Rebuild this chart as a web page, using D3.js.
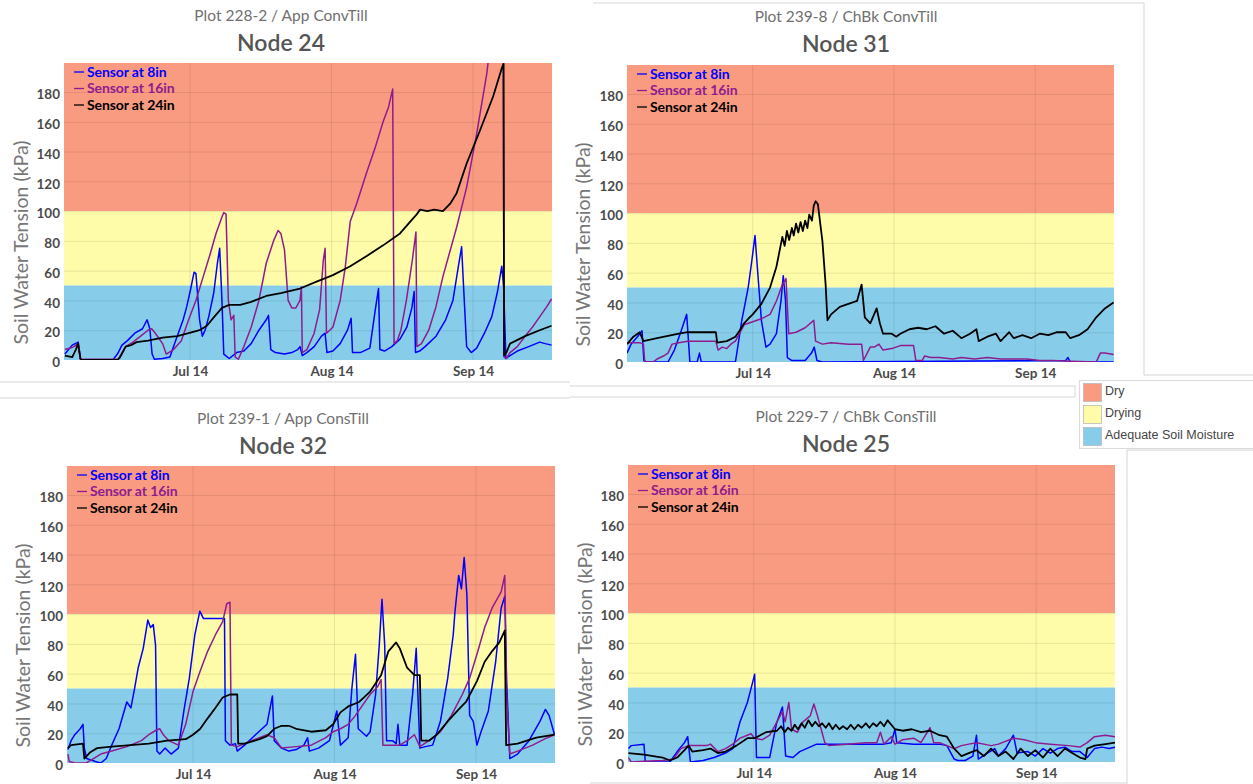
<!DOCTYPE html>
<html><head><meta charset="utf-8">
<script src="https://cdn.jsdelivr.net/npm/d3@7"></script>
<style>
html,body{margin:0;padding:0;background:#fff;}
svg{display:block;font-family:Lato,"Open Sans",sans-serif;}
</style></head><body>
<svg id="chart" width="1253" height="784"></svg>
<script>
// ---------- DATA (day offset from Jun 16, soil water tension kPa) ----------
const tickDays = [28, 59, 90];          // Jul 14, Aug 14, Sep 14
const yTicks = [0,20,40,60,80,100,120,140,160,180];
const zoneNames = ["Dry","Drying","Adequate Soil Moisture"];
const zoneBounds = [[100,199.5],[50,100],[0,50]];
const seriesNames = ["Sensor at 8in","Sensor at 16in","Sensor at 24in"];
const subtitles = ["Plot 228-2 / App ConvTill","Plot 239-8 / ChBk ConvTill","Plot 239-1 / App ConsTill","Plot 229-7 / ChBk ConsTill"];
const titles = ["Node 24","Node 31","Node 32","Node 25"];

const node24_8in = [[0.6,4],[2.2,10],[3.5,12],[4.0,1],[4.2,0],[11.1,0],[12.1,4],[13.1,10],[14.3,13],[15.9,18],[17.6,21],[18.6,27],[19.2,21],[19.7,4],[20.2,0.5],[22.0,1],[23.6,2],[24.4,9],[25.2,16],[26.5,27],[27.3,36],[28.1,47],[28.9,59],[29.3,58],[30.1,27],[30.7,16],[31.3,20],[32.1,29],[33.2,45],[34.0,65],[34.5,75],[35.0,40],[35.4,4],[36.6,1],[38.2,5],[39.8,6],[41.4,11],[43.1,20],[44.7,27],[45.2,30],[45.7,7],[46.7,5],[48.7,4],[50.3,5],[51.6,7],[52.1,9],[52.6,3],[53.6,5],[55.2,9],[56.8,16],[57.6,18],[58.0,5],[59.3,6],[60.9,11],[62.5,20],[63.3,28],[63.6,5],[65.3,5],[67.4,8],[68.6,34],[69.3,48],[69.6,7],[70.6,6],[72.2,9],[74.0,14],[75.5,22],[76.6,35],[77.1,46],[77.4,5],[78.3,6],[79.5,9],[81.9,16],[84.0,27],[85.6,40],[86.8,63],[87.5,76],[87.9,51],[88.6,9],[89.6,5],[90.8,8],[92.5,18],[94.1,29],[95.3,45],[96.3,63],[96.7,49],[97.2,1],[98.1,3],[99.7,6],[102.2,9],[104.6,12],[105.8,11],[107.2,10]];
const node24_16in = [[0.6,7],[1.8,8],[2.6,9],[3.4,11],[4.0,0.5],[12.3,0.5],[13.9,9],[15.5,12],[17.2,16],[18.8,20],[19.6,21],[20.4,18],[22.0,11],[22.8,4],[24.4,7],[26.1,13],[27.7,27],[29.3,40],[30.9,56],[32.5,72],[33.7,85],[35.0,96],[35.4,99],[35.9,98],[36.4,40],[37.0,27],[37.6,30],[37.9,2],[38.6,0.5],[39.8,9],[41.4,22],[43.1,40],[44.7,65],[46.3,80],[47.3,87],[47.9,85],[48.7,74],[49.5,40],[50.3,35],[51.2,35],[52.1,40],[52.4,49],[52.6,5],[53.6,7],[55.2,18],[56.4,34],[57.2,67],[57.6,75],[57.9,18],[59.3,22],[60.9,40],[62.0,62],[63.1,93],[64.5,105],[66.7,126],[68.5,142],[70.3,160],[71.5,170],[72.4,182],[72.7,11],[73.4,13],[74.2,20],[75.4,40],[76.7,67],[77.5,86],[77.7,9],[78.7,11],[80.3,20],[81.9,36],[83.4,56],[86.4,89],[88.6,116],[90.8,152],[93.0,192],[93.5,205],[96.6,205],[96.8,2],[97.3,1],[98.1,5],[99.7,9],[101.4,16],[103.0,22],[104.6,29],[106.2,36],[107.2,41]];
const node24_24in = [[0.6,3],[2.2,2],[3.0,7],[3.5,11],[4.0,1],[4.2,0],[12.1,0],[12.7,2],[13.9,9],[15.1,10],[16.3,12],[18.8,13],[22.0,15],[25.2,16],[27.7,18],[30.1,20],[31.7,23],[33.3,29],[35.0,35],[36.6,37],[39.0,37],[41.4,39],[44.7,43],[47.9,45],[52.1,48],[56.0,53],[59.3,57],[63.1,63],[66.8,70],[70.3,77],[74.0,85],[77.7,98],[78.4,101],[80.0,100],[81.5,101],[83.4,100],[85.0,105],[86.4,112],[88.6,132],[91.5,154],[94.4,177],[96.3,196],[96.7,199],[96.8,3],[97.3,5],[98.1,11],[101.4,16],[104.6,20],[107.2,23]];

const node31_8in = [[0.4,6],[1.3,12],[2.7,17],[3.7,21],[4.1,1],[4.6,0],[9.4,0],[10.8,8],[12.3,21],[13.5,32],[14.2,0],[15.8,0],[16.3,6],[16.7,0],[24.2,0],[25.6,28],[27.0,50],[27.8,68],[28.5,85],[29.0,64],[29.9,28],[30.9,10],[31.8,12],[33.2,19],[34.2,41],[34.7,58],[35.2,41],[35.6,3],[36.6,1],[39.5,1],[40.9,6],[41.5,10],[42.1,1],[43.3,0],[96.7,1],[97.2,3],[97.7,0],[107.2,0]];
const node31_16in = [[0.4,13],[3.2,13],[4.0,12],[4.3,0],[6.1,0],[7.0,2],[8.4,4],[9.4,6],[10.3,12],[11.8,13],[13.7,14],[16.5,14],[19.9,14],[20.4,8],[21.3,10],[22.3,9],[23.2,12],[24.2,14],[26.1,25],[28.0,27],[29.9,29],[31.8,32],[33.2,41],[34.5,52],[35.3,56],[35.9,19],[37.5,20],[39.5,23],[41.4,28],[41.8,14],[43.3,12],[45.2,13],[49.0,12],[51.9,12],[52.3,1],[53.8,10],[54.7,10],[55.7,12],[56.6,8],[58.5,9],[60.4,11],[63.3,11],[63.8,1],[65.2,1],[65.7,4],[67.1,3],[69.0,3],[71.9,2],[73.8,3],[76.7,2],[79.5,3],[82.4,2],[85.3,2],[88.1,2],[91.0,1],[93.8,1],[97.7,0.5],[103.4,0],[104.3,6],[105.3,6],[107.2,5]];
const node31_24in = [[0.4,12],[1.8,17],[3.2,20],[4.0,14],[7.0,16],[11.8,19],[13.7,20],[16.5,20],[19.9,20],[20.2,13],[22.3,14],[24.2,17],[25.1,21],[26.1,26],[27.0,29],[28.0,32],[29.9,39],[31.8,50],[33.2,64],[34.5,84],[35.0,78],[35.5,88],[36.0,82],[36.6,90],[37.0,85],[37.5,93],[38.0,87],[38.5,94],[39.0,88],[39.5,95],[40.0,90],[40.4,99],[41.0,95],[41.4,105],[41.8,108],[42.3,106],[43.3,81],[44.0,52],[44.4,28],[45.2,32],[47.1,37],[49.0,39],[50.9,41],[51.9,52],[52.6,30],[53.8,26],[55.2,36],[55.9,26],[56.6,19],[58.5,19],[59.5,17],[60.4,19],[62.4,22],[64.3,23],[66.2,22],[68.1,24],[70.0,19],[71.9,21],[73.8,16],[75.7,19],[77.1,22],[77.6,14],[79.5,17],[81.4,19],[82.4,14],[84.3,20],[85.3,16],[87.2,18],[89.1,16],[91.0,19],[92.9,18],[94.8,20],[96.7,20],[97.7,16],[99.6,18],[101.5,22],[103.4,30],[105.3,36],[107.2,40]];

const node32_8in = [[0.6,9],[1.3,15],[2.1,19],[3.3,23],[3.9,26],[4.2,10],[4.7,3],[6.6,1],[7.8,0],[9.0,3],[10.2,12],[11.8,23],[13.5,41],[14.4,37],[15.2,50],[16.0,64],[17.1,77],[18.1,96],[18.7,91],[19.3,93],[19.8,79],[20.1,8],[20.7,6],[21.9,10],[23.2,6],[24.8,10],[26.0,35],[27.2,57],[28.4,86],[29.5,102],[30.3,97],[34.9,97],[35.1,15],[36.1,12],[37.3,13],[37.7,8],[39.3,12],[41.7,19],[44.2,26],[45.4,45],[45.8,15],[47.4,10],[49.0,8],[50.6,9],[52.3,12],[53.1,17],[53.5,8],[55.5,10],[57.9,15],[59.5,35],[60.3,12],[62.0,17],[62.8,50],[63.6,73],[64.2,23],[66.0,18],[66.8,21],[68.0,46],[68.8,79],[69.4,110],[70.0,79],[70.4,15],[71.7,15],[72.5,13],[72.9,26],[73.3,12],[74.9,12],[76.1,46],[76.9,77],[77.7,10],[78.9,11],[80.5,12],[82.2,28],[83.8,57],[85.0,86],[85.4,102],[86.2,126],[86.8,117],[87.4,138],[88.0,113],[88.6,32],[89.4,28],[90.2,12],[91.1,21],[92.7,35],[94.3,68],[95.5,104],[96.3,112],[96.7,55],[97.4,3],[99.1,6],[101.6,15],[104.0,28],[105.2,36],[106.0,32],[107.2,19]];
const node32_16in = [[0.6,6],[0.9,1],[2.1,0],[4.6,0],[6.2,3],[7.8,6],[10.2,8],[13.5,11],[16.7,15],[18.3,19],[19.9,22],[20.7,23],[21.5,19],[22.7,15],[24.8,12],[26.4,26],[28.0,48],[29.6,62],[31.2,75],[32.9,86],[34.5,95],[35.4,107],[36.1,108],[36.4,12],[37.7,11],[40.9,15],[44.2,19],[45.8,17],[47.4,10],[50.6,11],[53.9,12],[57.1,17],[58.7,21],[60.3,23],[62.0,26],[63.6,32],[65.2,39],[66.8,46],[68.4,51],[69.2,56],[69.6,12],[73.3,12],[74.9,15],[76.5,19],[77.7,11],[79.7,15],[82.2,21],[84.6,32],[87.0,46],[88.6,57],[90.2,73],[91.9,91],[93.5,104],[95.5,115],[96.3,126],[96.7,46],[97.4,6],[99.1,8],[102.4,12],[105.6,17],[107.2,19]];
const node32_24in = [[0.6,10],[1.3,12],[3.9,13],[4.2,3],[5.4,7],[7.0,10],[10.2,11],[14.3,12],[18.3,13],[22.3,15],[26.4,16],[28.0,19],[29.6,23],[31.2,30],[32.9,37],[34.5,44],[36.1,46],[37.7,46],[37.9,13],[39.3,13],[42.6,16],[44.2,18],[45.8,23],[47.4,25],[49.0,25],[50.6,23],[53.9,21],[57.1,22],[58.7,26],[60.3,34],[62.0,38],[64.4,41],[66.8,48],[69.2,59],[70.8,75],[72.5,81],[73.3,77],[74.9,64],[76.5,59],[77.7,59],[78.0,15],[79.7,15],[81.4,19],[83.8,28],[86.2,36],[87.8,41],[90.2,55],[91.9,68],[93.5,75],[95.1,81],[96.3,89],[96.6,12],[99.1,13],[103.2,17],[107.2,19]];

const node25_8in = [[0.5,9],[1.1,11],[3.9,12],[4.2,0],[9.6,0],[11.2,7],[12.8,13],[13.5,17],[14.1,0],[16.9,1],[19.3,3],[21.8,6],[23.4,9],[25.0,27],[26.6,40],[27.8,54],[28.2,59],[28.6,3],[29.1,3],[31.5,3],[33.0,26],[34.3,37],[35.0,4],[36.6,3],[38.1,7],[41.8,12],[44.5,12],[48.5,12],[52.6,12],[56.6,12],[58.2,13],[59.0,22],[59.4,13],[63.1,12],[68.8,12],[70.4,11],[72.0,2],[72.8,1],[74.4,1],[76.1,4],[76.9,18],[77.3,2],[79.3,6],[80.9,9],[81.7,4],[83.3,9],[85.0,18],[85.8,6],[88.2,7],[89.8,4],[91.5,9],[93.1,6],[94.7,9],[96.3,10],[97.9,7],[99.6,7],[101.2,3],[102.8,9],[104.4,10],[106.0,9],[107.3,10]];
const node25_16in = [[0.5,3],[1.1,0],[3.9,0.5],[8.0,1],[10.4,2],[12.0,9],[13.7,11],[16.1,11],[17.7,11],[18.5,12],[20.1,7],[21.8,9],[23.4,12],[25.0,16],[27.4,19],[28.2,16],[29.9,15],[31.5,18],[33.1,27],[34.3,34],[34.9,27],[35.7,40],[36.3,22],[37.6,20],[38.8,27],[40.4,31],[41.2,39],[42.0,31],[42.8,22],[43.6,13],[44.5,11],[48.5,12],[52.6,13],[55.0,13],[55.8,20],[56.6,12],[58.2,17],[59.0,12],[60.7,15],[63.1,16],[64.7,13],[66.7,23],[67.5,13],[68.8,13],[70.4,11],[72.0,9],[73.6,11],[75.2,12],[76.9,13],[78.5,12],[80.1,11],[81.7,12],[85.0,16],[87.4,15],[89.8,13],[93.1,12],[97.1,11],[99.6,10],[101.2,13],[102.8,17],[105.2,18],[107.3,17]];
const node25_24in = [[0.5,6],[3.9,5],[8.0,3],[9.6,1],[11.2,3],[12.8,8],[13.7,11],[14.5,7],[16.9,8],[18.5,9],[20.1,6],[21.8,7],[24.2,11],[26.6,16],[28.2,16],[30.7,20],[33.1,21],[34.0,24],[34.8,20],[35.5,23],[36.3,21],[37.0,25],[37.7,22],[38.5,26],[39.2,23],[40.0,28],[40.8,24],[41.5,27],[42.3,24],[43.0,26],[43.8,23],[44.5,26],[45.3,22],[46.0,25],[46.8,22],[47.6,24],[48.5,22],[49.3,25],[50.1,22],[50.9,25],[51.7,23],[52.6,26],[53.4,23],[54.2,26],[55.0,24],[55.8,27],[56.6,24],[57.4,28],[58.2,25],[59.0,22],[60.7,21],[62.7,22],[64.7,20],[66.7,21],[68.8,18],[70.4,17],[72.0,9],[73.6,4],[75.2,6],[76.9,8],[78.5,4],[80.1,9],[81.7,4],[83.3,7],[85.0,2],[86.6,9],[88.2,4],[89.8,8],[91.5,3],[93.1,9],[94.7,4],[96.3,9],[97.9,6],[99.6,3],[100.8,2],[101.2,9],[102.8,11],[105.2,12],[107.3,13]];

// ---------- LAYOUT ----------
const zoneColors = ["#F99B81","#FEFCA8","#87CDEA"];
const seriesColors = ["#0000FF","#8E1C8E","#000000"];
const START = new Date(2016,5,16);
const toDate = d => new Date(START.getTime() + d*864e5);
const xDomain = [toDate(0.4), toDate(107.3)];

const panels = [
  {sub:subtitles[0], title:titles[0], data:[node24_8in,node24_16in,node24_24in], L:64, R:552, T:63, B:360, cx:281, subY:16, titY:43, ylx:21},
  {sub:subtitles[1], title:titles[1], data:[node31_8in,node31_16in,node31_24in], L:627, R:1114, T:65, B:362, cx:846, subY:17, titY:44, ylx:583},
  {sub:subtitles[2], title:titles[2], data:[node32_8in,node32_16in,node32_24in], L:67, R:555, T:466, B:763, cx:283, subY:419, titY:446, ylx:23},
  {sub:subtitles[3], title:titles[3], data:[node25_8in,node25_16in,node25_24in], L:628, R:1115, T:465, B:762, cx:846, subY:417, titY:444, ylx:585}
];

const svg = d3.select("#chart");
const defs = svg.append("defs");

// faint container borders
const border = "#d6d6d6";
const segs = [[0,382,570,382],[0,398,570,398],[570,386,1075,386],[570,397,1075,397],[1075,386,1075,397],
  [593,3,1144,3],[1144,3,1144,375],[1144,375,1253,375],
  [1127,450,1127,784],[1127,450,1253,450],[590,783,1127,783]];
svg.selectAll("line.border").data(segs).enter().append("line")
  .attr("x1",d=>d[0]).attr("y1",d=>d[1]).attr("x2",d=>d[2]).attr("y2",d=>d[3])
  .attr("stroke",border).attr("stroke-width",1);

panels.forEach((p,i)=>{
  const x = d3.scaleTime().domain(xDomain).range([p.L,p.R]);
  const y = d3.scaleLinear().domain([0,199.5]).range([p.B,p.T]);
  const g = svg.append("g");
  const clipId = "clip"+i;
  defs.append("clipPath").attr("id",clipId).append("rect")
    .attr("x",p.L).attr("y",p.T).attr("width",p.R-p.L).attr("height",p.B-p.T);

  // zones
  g.selectAll("rect.zone").data(zoneBounds).enter().append("rect")
    .attr("x",p.L).attr("width",p.R-p.L)
    .attr("y",d=>y(d[1])).attr("height",d=>y(d[0])-y(d[1]))
    .attr("fill",(d,j)=>zoneColors[j]);

  // grid
  g.selectAll("line.gy").data(yTicks.slice(1)).enter().append("line")
    .attr("x1",p.L).attr("x2",p.R).attr("y1",d=>y(d)+0.5).attr("y2",d=>y(d)+0.5)
    .attr("stroke","rgba(0,0,0,0.09)");
  g.selectAll("line.gx").data(tickDays).enter().append("line")
    .attr("y1",p.T).attr("y2",p.B).attr("x1",d=>x(toDate(d))).attr("x2",d=>x(toDate(d)))
    .attr("stroke","rgba(0,0,0,0.09)");

  // axes
  const xa = d3.axisBottom(x).tickValues(tickDays.map(toDate)).tickFormat(d3.timeFormat("%b %d")).tickSize(0).tickPadding(6);
  const gx = g.append("g").attr("transform",`translate(0,${p.B})`).call(xa);
  const ya = d3.axisLeft(y).tickValues(yTicks).tickSize(0).tickPadding(4);
  const gy = g.append("g").attr("transform",`translate(${p.L},0)`).call(ya);
  [gx,gy].forEach(a=>{
    a.select(".domain").remove();
    a.selectAll("text").attr("font-family","Lato, sans-serif").attr("font-size",13.5)
      .attr("font-weight",700).attr("fill","#4a4a4a");
  });
  gy.selectAll("text").attr("dy","0.5em");

  // lines
  const line = d3.line().x(d=>x(toDate(d[0]))).y(d=>y(d[1]));
  const lg = g.append("g").attr("clip-path",`url(#${clipId})`);
  p.data.forEach((s,j)=>{
    lg.append("path").datum(s).attr("d",line).attr("fill","none")
      .attr("stroke",seriesColors[j]).attr("stroke-width",j===2?1.8:1.5)
      .attr("stroke-linejoin","round");
  });

  // in-plot legend
  const lgd = g.append("g");
  seriesNames.forEach((n,j)=>{
    const yy = p.T + 9 + j*16.5;
    lgd.append("line").attr("x1",p.L+10).attr("x2",p.L+20).attr("y1",yy).attr("y2",yy)
      .attr("stroke",seriesColors[j]).attr("stroke-width",1.3);
    lgd.append("text").attr("x",p.L+23).attr("y",yy).attr("dy","0.35em")
      .attr("font-size",14).attr("font-weight",700).attr("fill",seriesColors[j])
      .attr("letter-spacing","-0.1").text(n);
  });

  // titles
  g.append("text").attr("x",p.cx).attr("y",p.subY).attr("dy","0.35em").attr("text-anchor","middle")
    .attr("font-size",15.5).attr("fill","#707070").text(p.sub);
  g.append("text").attr("x",p.cx).attr("y",p.titY).attr("dy","0.35em").attr("text-anchor","middle")
    .attr("font-size",23).attr("font-weight",600).attr("fill","#555").text(p.title);
  // y label
  const ym = (p.T+p.B)/2 + 31;
  g.append("text").attr("transform",`translate(${p.ylx},${ym}) rotate(-90)`).attr("dy","0.35em")
    .attr("text-anchor","middle").attr("font-size",19.5).attr("fill","#777")
    .text("Soil Water Tension (kPa)");
});

// zone legend
const zl = svg.append("g");
zl.append("rect").attr("x",1079.5).attr("y",380.5).attr("width",180).attr("height",68)
  .attr("fill","#fff").attr("stroke","#dcdcdc");
zoneNames.forEach((n,j)=>{
  const yy = 383 + j*22;
  zl.append("rect").attr("x",1083.5).attr("y",yy+0.5).attr("width",18).attr("height",18)
    .attr("fill",zoneColors[j]).attr("stroke","#bbb").attr("stroke-width",0.8);
  zl.append("text").attr("x",1105).attr("y",yy+8).attr("dy","0.35em")
    .attr("font-family","'Liberation Sans', Arial, sans-serif").attr("font-size",12.5)
    .attr("fill","#444").text(n);
});
</script></body></html>
